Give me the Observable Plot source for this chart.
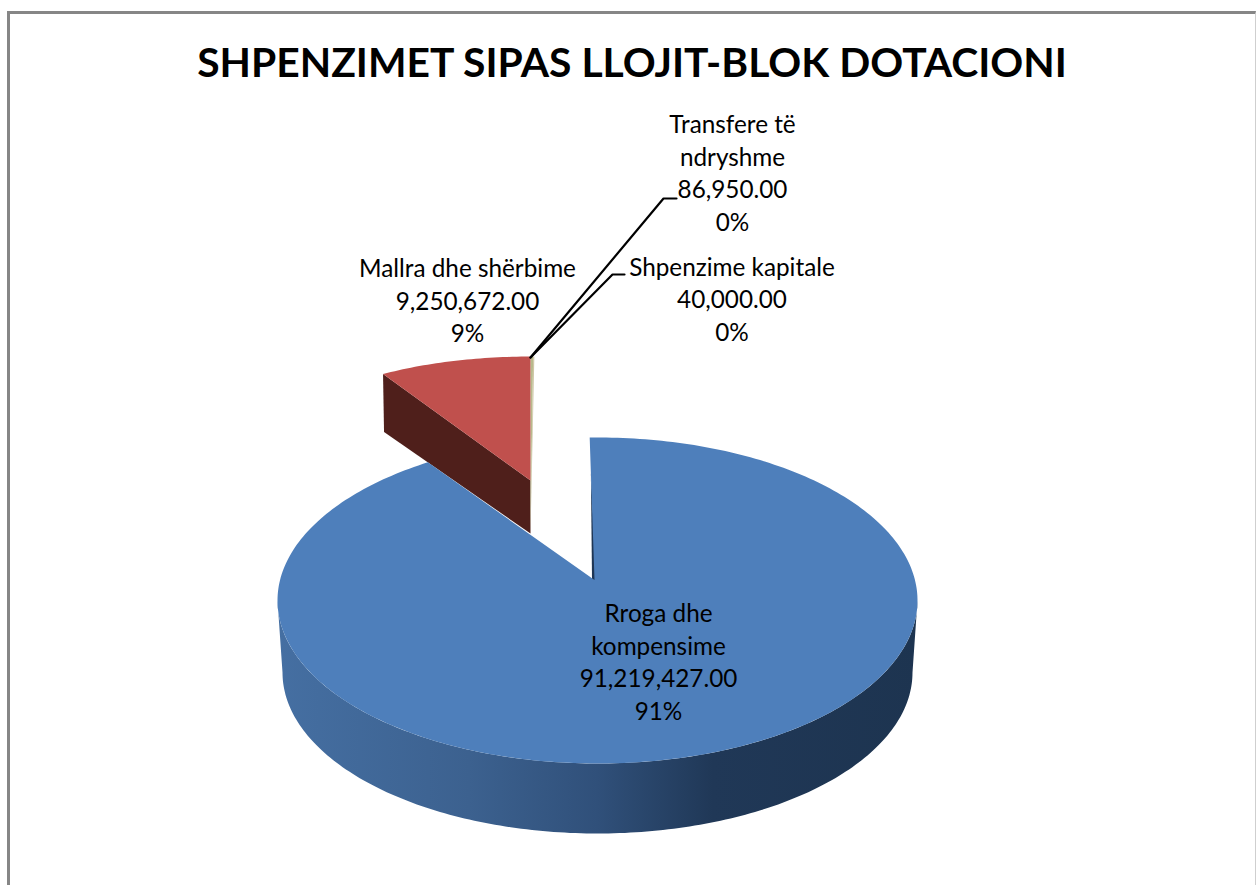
<!DOCTYPE html>
<html lang="sq">
<head>
<meta charset="utf-8">
<script src="https://cdn.jsdelivr.net/npm/d3@7"></script>
<script src="https://cdn.jsdelivr.net/npm/@observablehq/plot@0.6"></script>
<style>
  html, body { margin: 0; padding: 0; background: #fff; }
  #page { position: relative; width: 1256px; height: 885px; overflow: hidden; font-family: Lato, sans-serif; }
  #frame { position: absolute; left: 7px; top: 11px; width: 1249px; height: 900px; border: 3px solid #868686; border-right: 1px solid #cfcfcf; box-sizing: border-box; }
  #title { position: absolute; left: 0; top: 36px; width: 1264px; margin: 0; text-align: center; font: 700 40.8px/52px Lato, sans-serif; color: #000; white-space: nowrap; }
  #chart { position: absolute; left: 0; top: 0; }
  #chart svg { display: block; background: transparent; }
</style>
</head>
<body>
<div id="page">
  <div id="frame"></div>
  <h1 id="title"></h1>
  <div id="chart"></div>
</div>
<script>
// ---- data ----
const chartTitle = "SHPENZIMET SIPAS LLOJIT-BLOK DOTACIONI";
const categories = ["Rroga dhe\nkompensime", "Mallra dhe shërbime", "Transfere të\nndryshme", "Shpenzime kapitale"];
const values = [91219427, 9250672, 86950, 40000];

// ---- presentation ----
const sliceColors = ["#4e7fbb", "#c0504d", "#b8b98c", "#cfc8a6"];
const W = 1256, H = 885;
const total = d3.sum(values);
const sweep = values.map(v => v / total * 360);
const fmtValue = d3.format(",.2f");
const fmtShare = d3.format(".0%");
const rad = d => d * Math.PI / 180;

// A point on a tilted disc; angle in degrees clockwise from the top.
const onDisc = (e, a) => ({x: e.cx + e.rx * Math.sin(rad(a)), y: e.cy - e.ry * Math.cos(rad(a))});
const arc = (e, a0, a1) => {
  const n = Math.max(2, Math.ceil(Math.abs(a1 - a0)));
  return d3.range(n + 1).map(i => onDisc(e, a0 + (a1 - a0) * i / n));
};

// Main disc (perspective: the tip sits off the ellipse centre)
const topDisc = {cx: 597, cy: 600, rx: 320, ry: 163};
const baseDisc = {cx: 597, cy: 672, rx: 315, ry: 161};
const tip = {x: 594, y: 579.5};
const blueStart = -1.4;
const blueEnd = blueStart + sweep[0] * 1.009;

const blueFace = [tip, ...arc(topDisc, blueStart, blueEnd)];
const blueWall = [...arc(topDisc, 90, 270), ...arc(baseDisc, 270, 90)];
const s = onDisc(topDisc, blueStart);
const innerWall = [
  {x: s.x + (tip.x - s.x) * 0.25, y: s.y + (tip.y - s.y) * 0.25},
  {x: tip.x + 2, y: tip.y + 3},
  {x: tip.x - 2.5, y: tip.y - 1}
];

// Exploded slice
const redDisc = {cx: 530, cy: 464, rx: 270, ry: 108};
const redTip = {x: 530, y: 480};
const redDepth = 53;
const redArc = arc(redDisc, -sweep[1], 0);
const redFace = [redTip, ...redArc];
const redOuter = redArc[0];
const redWall = [redOuter, redTip, {x: redTip.x, y: redTip.y + redDepth}, {x: redOuter.x + 1, y: redOuter.y + 58}];

// The two tiny slices, next to the exploded one
const tiny2End = sweep[2] * 1.8;
const tiny3End = tiny2End + sweep[3] * 1.8;
const tiny2 = [{x: redTip.x, y: redTip.y + redDepth}, redTip, ...arc(redDisc, 0, tiny2End)];
const tiny3 = [{x: redTip.x, y: redTip.y + redDepth}, ...arc(redDisc, tiny2End, tiny3End)];

// Label layout
const labelPlacement = [
  {x: 658, y: 660},
  {x: 467, y: 299},
  {x: 732, y: 171},
  {x: 731.5, y: 297.5}
];
const labels = categories.map((c, i) => ({
  ...labelPlacement[i],
  text: `${c}\n${fmtValue(values[i])}\n${fmtShare(values[i] / total)}`
}));

const leaderA = [{x: 530, y: 357}, {x: 663, y: 198}, {x: 676, y: 198}];
const leaderB = [{x: 530, y: 357}, {x: 612, y: 274}, {x: 624, y: 274}];

const shape = (pts, fill) => Plot.line(pts, {x: "x", y: "y", fill, stroke: "none", curve: "linear"});

const plot = Plot.plot({
  width: W, height: H,
  margin: 0,
  style: {background: "transparent", overflow: "visible"},
  x: {domain: [0, W], range: [0, W], axis: null},
  y: {domain: [0, H], range: [0, H], axis: null},
  marks: [
    () => {
      const ns = "http://www.w3.org/2000/svg";
      const defs = document.createElementNS(ns, "defs");
      const g = document.createElementNS(ns, "linearGradient");
      g.setAttribute("id", "wallGrad");
      [[0, "#456fa2"], [0.3, "#3c618f"], [0.5, "#30507a"], [0.68, "#203857"], [1, "#1d3450"]].forEach(([o, c]) => {
        const st = document.createElementNS(ns, "stop");
        st.setAttribute("offset", o); st.setAttribute("stop-color", c);
        g.appendChild(st);
      });
      defs.appendChild(g);
      return defs;
    },
    shape(redWall, "#4f1f1b"),
    shape(tiny2, sliceColors[2]),
    shape(tiny3, sliceColors[3]),
    shape(redFace, sliceColors[1]),
    shape(innerWall, "#1f3654"),
    shape(blueWall, "url(#wallGrad)"),
    shape(blueFace, sliceColors[0]),
    Plot.line(leaderA, {x: "x", y: "y", stroke: "#000", strokeWidth: 2.2, curve: "linear"}),
    Plot.line(leaderB, {x: "x", y: "y", stroke: "#000", strokeWidth: 2.2, curve: "linear"}),
    Plot.text(labels, {
      x: "x", y: "y", text: "text",
      fontFamily: "Lato, sans-serif", fontSize: 24.3, lineHeight: 1.34,
      fill: "#000", textAnchor: "middle", lineAnchor: "middle"
    })
  ]
});
document.getElementById("title").textContent = chartTitle;
document.getElementById("chart").appendChild(plot);
</script>
</body>
</html>
